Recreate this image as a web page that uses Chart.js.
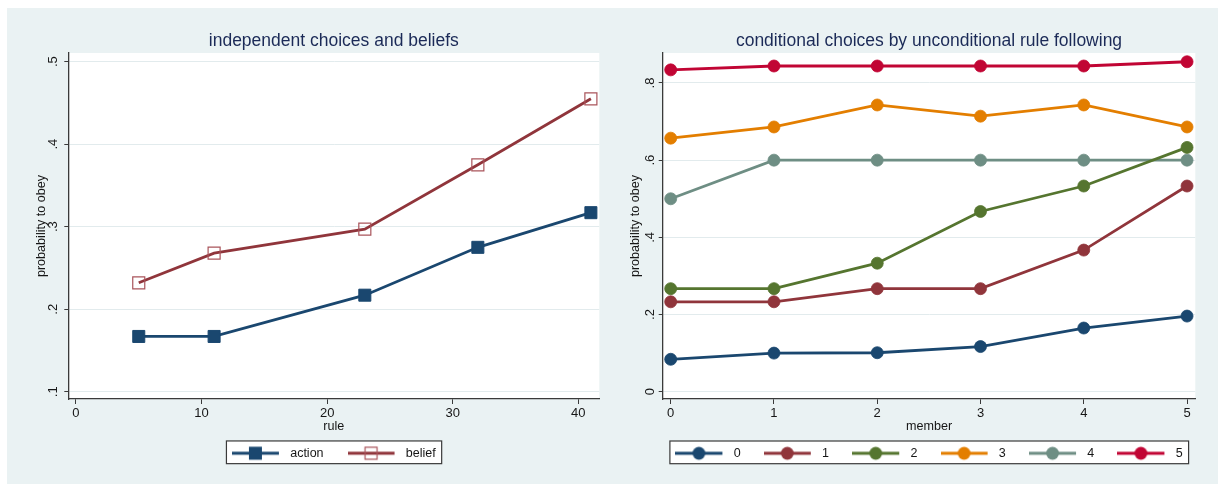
<!DOCTYPE html>
<html>
<head>
<meta charset="utf-8">
<title>probability to obey</title>
<script src="https://cdn.jsdelivr.net/npm/chart.js@4/dist/chart.umd.min.js"></script>
<style>
  html, body { margin: 0; padding: 0; background: #ffffff; }
  #page { position: relative; width: 1218px; height: 484px; overflow: hidden; }
  #backdrop { position: absolute; left: 7px; top: 8px; width: 1211px; height: 476px; background: #eaf2f3; }
  .panel { position: absolute; top: 0; width: 609px; height: 484px; }
  #leftPanel { left: 0; }
  #rightPanel { left: 609px; }
</style>
</head>
<body>
<div id="page">
  <div id="backdrop"></div>
  <div class="panel" id="leftPanel"><canvas id="leftChart" width="609" height="484"></canvas></div>
  <div class="panel" id="rightPanel"><canvas id="rightChart" width="609" height="484"></canvas></div>
</div>
<script>
// ---- left panel: independent choices and beliefs ----
const ruleValues = [5, 11, 23, 32, 41];
const actionProb = [0.167, 0.167, 0.217, 0.275, 0.317];
const beliefProb = [0.232, 0.268, 0.297, 0.375, 0.455];
const ruleTicks = [0, 10, 20, 30, 40];
const leftYTicks = [0.1, 0.2, 0.3, 0.4, 0.5];
const leftYTickLabels = ['.1', '.2', '.3', '.4', '.5'];

// ---- right panel: conditional choices by unconditional rule following ----
const memberValues = [0, 1, 2, 3, 4, 5];
const groupNames = ['0', '1', '2', '3', '4', '5'];
const group0 = [0.084, 0.100, 0.101, 0.117, 0.165, 0.196];
const group1 = [0.233, 0.233, 0.267, 0.267, 0.367, 0.533];
const group2 = [0.267, 0.267, 0.333, 0.467, 0.533, 0.633];
const group3 = [0.657, 0.686, 0.743, 0.714, 0.743, 0.686];
const group4 = [0.500, 0.600, 0.600, 0.600, 0.600, 0.600];
const group5 = [0.834, 0.844, 0.844, 0.844, 0.844, 0.855];
const memberTicks = [0, 1, 2, 3, 4, 5];
const rightYTicks = [0, 0.2, 0.4, 0.6, 0.8];
const rightYTickLabels = ['0', '.2', '.4', '.6', '.8'];

const palette = ['#1a476f', '#90353b', '#55752f', '#e37e00', '#6e8e84', '#c10534'];
const ink = '#161616';
const axisInk = '#3a3a3a';
const gridInk = '#e2ebed';

Chart.defaults.font.family = '"Liberation Sans", Arial, Helvetica, sans-serif';
Chart.defaults.color = ink;

// white plot region behind the data
const plotRegion = {
  id: 'plotRegion',
  beforeDraw(chart) {
    const { ctx, chartArea: a } = chart;
    ctx.save();
    ctx.fillStyle = '#ffffff';
    ctx.fillRect(a.left, a.top, a.right - a.left, a.bottom - a.top);
    ctx.restore();
  }
};

// keep the legend row centred under the plot region
const legendCentre = {
  id: 'legendCentre',
  afterLayout(chart) {
    const lg = chart.legend, a = chart.chartArea;
    const c = (a.left + a.right) / 2;
    const hw = (lg.right - lg.left) / 2;
    lg.left = c - hw;
    lg.right = c + hw;
  }
};

// framed white box around the legend keys
const legendFrame = {
  id: 'legendFrame',
  afterDraw(chart) {
    const lg = chart.legend;
    if (!lg || !lg.lineWidths) return;
    const opts = lg.options.labels;
    const pad = opts.padding;
    const fs = opts.font.size;
    const start = (lg.left + pad + lg.right - lg.lineWidths[0]) / 2;
    const end = start + lg.lineWidths[0] - pad;
    const cy = lg.top + pad + fs / 2;
    const x0 = start - 5.5, x1 = end + 6;
    const y0 = cy - 12.3, y1 = cy + 10.4;
    const ctx = chart.ctx;
    ctx.save();
    ctx.globalCompositeOperation = 'destination-over';
    ctx.fillStyle = '#ffffff';
    ctx.fillRect(x0, y0, x1 - x0, y1 - y0);
    ctx.globalCompositeOperation = 'source-over';
    ctx.strokeStyle = axisInk;
    ctx.lineWidth = 1.2;
    ctx.strokeRect(x0, y0, x1 - x0, y1 - y0);
    ctx.restore();
  }
};

// small line-plus-marker key used in the legends
function keyIcon(color, marker, outline) {
  const c = document.createElement('canvas');
  c.width = 52; c.height = 16;
  const g = c.getContext('2d');
  g.strokeStyle = color;
  g.lineWidth = 2.8;
  g.beginPath(); g.moveTo(0, 8); g.lineTo(47, 8); g.stroke();
  if (marker === 'square') {
    g.fillStyle = color;
    g.fillRect(23.5 - 6.5, 8 - 6.5, 13, 13);
  } else if (marker === 'hollow') {
    g.strokeStyle = outline;
    g.lineWidth = 1.2;
    g.strokeRect(23.5 - 6, 8 - 6, 12, 12);
  } else {
    g.fillStyle = color;
    g.beginPath(); g.arc(23.5, 8, 6.4, 0, Math.PI * 2); g.fill();
  }
  return c;
}

function legendOptions(icons, padding) {
  return {
    display: true,
    position: 'bottom',
    align: 'center',
    labels: {
      usePointStyle: true,
      pointStyleWidth: 52,
      padding: padding,
      color: ink,
      font: { size: 12.5 },
      generateLabels: chart => chart.data.datasets.map((ds, i) => ({
        text: ds.label,
        pointStyle: icons[i],
        fillStyle: ds.borderColor,
        strokeStyle: ds.borderColor,
        lineWidth: 0,
        hidden: false,
        datasetIndex: i,
        fontColor: ink
      }))
    }
  };
}

function tickSetter(values) {
  return scale => { scale.ticks = values.map(v => ({ value: v })); };
}

function labelFor(values, labels) {
  return value => {
    const i = values.findIndex(v => Math.abs(v - value) < 1e-9);
    return i >= 0 ? labels[i] : '';
  };
}

function xScale(min, max, ticks, title, height, titlePadBottom) {
  return {
    type: 'linear',
    min: min, max: max,
    afterBuildTicks: tickSetter(ticks),
    afterFit: s => { s.height = height; },
    grid: { display: true, drawOnChartArea: false, drawTicks: true, tickLength: 5, tickColor: axisInk, tickWidth: 1 },
    border: { display: true, color: axisInk, width: 1.3 },
    ticks: { autoSkip: false, padding: 1.2, color: ink, font: { size: 13 }, maxRotation: 0, minRotation: 0 },
    title: { display: true, text: title, color: ink, font: { size: 12.6 }, padding: { top: 0, bottom: titlePadBottom } }
  };
}

function yScale(min, max, ticks, labels, width, tickPad, titlePadTop) {
  return {
    type: 'linear',
    min: min, max: max,
    afterBuildTicks: tickSetter(ticks),
    afterFit: s => { s.width = width; },
    grid: { display: true, color: gridInk, lineWidth: 1, drawTicks: true, tickLength: 4, tickColor: axisInk, tickWidth: 1 },
    border: { display: true, color: axisInk, width: 1.3 },
    ticks: {
      autoSkip: false, padding: tickPad, color: ink, font: { size: 13 },
      minRotation: 90, maxRotation: 90, crossAlign: 'center',
      callback: labelFor(ticks, labels)
    },
    title: { display: true, text: 'probability to obey', color: ink, font: { size: 12.6 }, padding: { top: titlePadTop, bottom: 0 } }
  };
}

function titleOptions(text) {
  return {
    display: true, text: text, color: '#1b2a57', fullSize: false,
    font: { size: 17.5, weight: 'normal' },
    padding: { top: 31, bottom: 1 }
  };
}

// left chart
const leftIcons = [
  keyIcon(palette[0], 'square'),
  keyIcon(palette[1], 'hollow', '#a9545b')
];

new Chart(document.getElementById('leftChart'), {
  type: 'line',
  data: {
    datasets: [
      {
        label: 'action',
        data: ruleValues.map((x, i) => ({ x: x, y: actionProb[i] })),
        borderColor: palette[0], backgroundColor: palette[0], borderWidth: 2.8, tension: 0,
        pointStyle: 'rect', pointRadius: 8.5, pointHoverRadius: 8.5, pointBorderWidth: 1,
        pointBackgroundColor: palette[0], pointBorderColor: palette[0], clip: false
      },
      {
        label: 'belief',
        data: ruleValues.map((x, i) => ({ x: x, y: beliefProb[i] })),
        borderColor: palette[1], backgroundColor: palette[1], borderWidth: 2.8, tension: 0,
        pointStyle: 'rect', pointRadius: 8.5, pointHoverRadius: 8.5, pointBorderWidth: 1.2,
        pointBackgroundColor: 'rgba(0,0,0,0)', pointBorderColor: '#a9545b', clip: false
      }
    ]
  },
  options: {
    responsive: false, animation: false, events: [],
    layout: { padding: { left: 30, right: 8, top: 0, bottom: 14.5 } },
    scales: {
      x: xScale(-0.61, 41.67, ruleTicks, 'rule', 24, -11.26),
      y: yScale(0.0912, 0.5105, leftYTicks, leftYTickLabels, 38.3, 5.6, 3.74)
    },
    plugins: {
      title: titleOptions('independent choices and beliefs'),
      legend: legendOptions(leftIcons, 24),
      tooltip: { enabled: false }
    }
  },
  plugins: [plotRegion, legendCentre, legendFrame]
});

// right chart
const groupSeries = [group0, group1, group2, group3, group4, group5];
const rightIcons = groupSeries.map((_, i) => keyIcon(palette[i], 'circle'));

new Chart(document.getElementById('rightChart'), {
  type: 'line',
  data: {
    datasets: groupSeries.map((series, i) => ({
      label: groupNames[i],
      data: memberValues.map((x, j) => ({ x: x, y: series[j] })),
      borderColor: palette[i], backgroundColor: palette[i], borderWidth: 2.8, tension: 0,
      pointStyle: 'circle', pointRadius: 6, pointHoverRadius: 6, pointBorderWidth: 0.8,
      pointBackgroundColor: palette[i], pointBorderColor: palette[i], clip: false
    }))
  },
  options: {
    responsive: false, animation: false, events: [],
    layout: { padding: { left: 15, right: 22.7, top: 0, bottom: 14.45 } },
    scales: {
      x: xScale(-0.0775, 5.08, memberTicks, 'member', 24.85, -10.21),
      y: yScale(-0.0189, 0.8777, rightYTicks, rightYTickLabels, 38.7, 3.3, 4.44)
    },
    plugins: {
      title: titleOptions('conditional choices by unconditional rule following'),
      legend: legendOptions(rightIcons, 23.2),
      tooltip: { enabled: false }
    }
  },
  plugins: [plotRegion, legendCentre, legendFrame]
});
</script>
</body>
</html>
